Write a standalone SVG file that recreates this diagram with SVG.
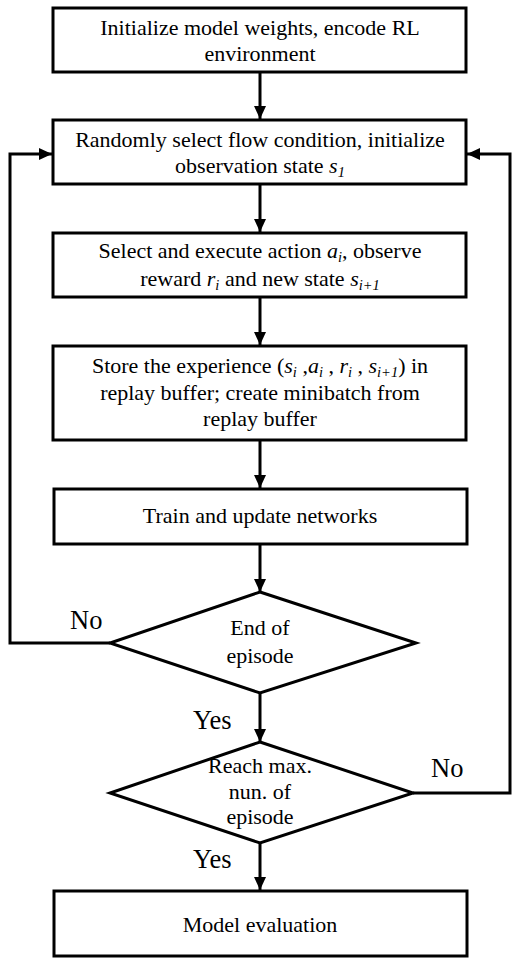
<svg xmlns="http://www.w3.org/2000/svg" width="519" height="966" viewBox="0 0 519 966">
<style>
.box{fill:#fff;stroke:#000;stroke-width:3}
.dia{fill:#fff;stroke:#000;stroke-width:3;stroke-linejoin:miter}
text{font-family:'Liberation Serif','Times New Roman',Tinos,'DejaVu Serif','Noto Serif',serif;fill:#000}
.t{font-size:22px;text-anchor:middle}
.lbl{font-size:26.5px}
.i{font-style:italic}
.sub{font-style:italic;font-size:14.5px}
.c{fill:none;stroke:#000;stroke-width:3}
</style>
<defs>
<marker id="ah" markerUnits="userSpaceOnUse" markerWidth="13" markerHeight="12" refX="13" refY="6" orient="auto">
<path d="M0,0 L13,6 L0,12 z" fill="#000"/>
</marker>
</defs>
<rect width="519" height="966" fill="#fff"/>
<g id="connectors">
<line class="c" x1="260" y1="73" x2="260" y2="119" marker-end="url(#ah)"/>
<line class="c" x1="260" y1="185" x2="260" y2="232" marker-end="url(#ah)"/>
<line class="c" x1="260" y1="298" x2="260" y2="345" marker-end="url(#ah)"/>
<line class="c" x1="260" y1="441" x2="260" y2="488" marker-end="url(#ah)"/>
<line class="c" x1="260" y1="545" x2="260" y2="592" marker-end="url(#ah)"/>
<line class="c" x1="260" y1="693" x2="260" y2="742" marker-end="url(#ah)"/>
<line class="c" x1="260" y1="843" x2="260" y2="890" marker-end="url(#ah)"/>
<polyline class="c" points="110,643 10,643 10,154 52,154" marker-end="url(#ah)"/>
<polyline class="c" points="413,793 510,793 510,154 467,154" marker-end="url(#ah)"/>
<text class="lbl" x="70" y="629">No</text>
<text class="lbl" x="193" y="729">Yes</text>
<text class="lbl" x="431" y="777">No</text>
<text class="lbl" x="193" y="868">Yes</text>
</g>
<g id="n1">
<rect class="box" x="53" y="8" width="413" height="64"/>
<text class="t" x="260" y="35">Initialize model weights, encode RL</text>
<text class="t" x="260" y="61">environment</text>
</g>
<g id="n2">
<rect class="box" x="53" y="120" width="413" height="64"/>
<text class="t" x="260" y="147">Randomly select flow condition, initialize</text>
<text class="t" x="260" y="173">observation state <tspan class="i">s</tspan><tspan class="sub" dy="4">1</tspan></text>
</g>
<g id="n3">
<rect class="box" x="53" y="233" width="413" height="64"/>
<text class="t" x="260" y="258">Select and execute action <tspan class="i">a</tspan><tspan class="sub" dy="4">i</tspan><tspan dy="-4">, observe</tspan></text>
<text class="t" x="260" y="286">reward <tspan class="i">r</tspan><tspan class="sub" dy="4">i</tspan><tspan dy="-4"> and new state </tspan><tspan class="i">s</tspan><tspan class="sub" dy="4">i+1</tspan></text>
</g>
<g id="n4">
<rect class="box" x="53" y="346" width="413" height="94"/>
<text class="t" x="260" y="373">Store the experience (<tspan class="i">s</tspan><tspan class="sub" dy="4">i</tspan><tspan dy="-4"> ,</tspan><tspan class="i">a</tspan><tspan class="sub" dy="4">i</tspan><tspan dy="-4"> , </tspan><tspan class="i">r</tspan><tspan class="sub" dy="4">i</tspan><tspan dy="-4"> , </tspan><tspan class="i">s</tspan><tspan class="sub" dy="4">i+1</tspan><tspan dy="-4">) in</tspan></text>
<text class="t" x="260" y="400">replay buffer; create minibatch from</text>
<text class="t" x="260" y="426">replay buffer</text>
</g>
<g id="n5">
<rect class="box" x="54" y="489" width="413" height="55"/>
<text class="t" x="260" y="523">Train and update networks</text>
</g>
<g id="d1">
<polygon class="dia" points="260,592 416,643 260,693 110,643"/>
<text class="t" x="260" y="635">End of</text>
<text class="t" x="260" y="663">episode</text>
</g>
<g id="d2">
<polygon class="dia" points="260,742 413,793 260,843 110,793"/>
<text class="t" x="260" y="773">Reach max.</text>
<text class="t" x="260" y="799">nun. of</text>
<text class="t" x="260" y="824">episode</text>
</g>
<g id="n6">
<rect class="box" x="54" y="891" width="413" height="65"/>
<text class="t" x="260" y="932">Model evaluation</text>
</g>
</svg>
